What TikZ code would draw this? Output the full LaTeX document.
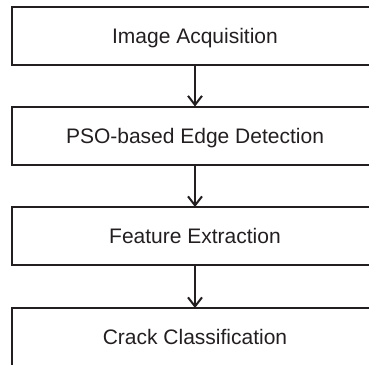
\documentclass[tikz,border=0pt]{standalone}
\usepackage{fontspec}
\setmainfont{Liberation Sans}
\usetikzlibrary{arrows.meta}
\definecolor{ink}{HTML}{231F20}
\begin{document}
\begin{tikzpicture}[x=1pt,y=-1pt,
  stepbox/.style={draw=ink, line width=2pt, rectangle, minimum width=366pt, minimum height=58pt,
    outer sep=0pt, inner sep=0pt, text height=15pt, text depth=0pt,
    font=\fontsize{21}{25}\selectfont, text=ink},
  flow/.style={draw=ink, line width=2pt, -{Straight Barb[length=9pt,width=14pt,line width=2pt]}}]
\useasboundingbox (0,0) rectangle (369,364);
\clip (0,0) rectangle (369,364);
\node[stepbox] (a) at (195,36) {Image Acquisition};
\node[stepbox] (b) at (195,135.5) {PSO-based Edge Detection};
\node[stepbox] (c) at (195,236) {Feature Extraction};
\node[stepbox] (d) at (195,337) {Crack Classification};
\draw[flow] (a.south) -- (b.north);
\draw[flow] (b.south) -- (c.north);
\draw[flow] (c.south) -- (d.north);
\end{tikzpicture}
\end{document}
